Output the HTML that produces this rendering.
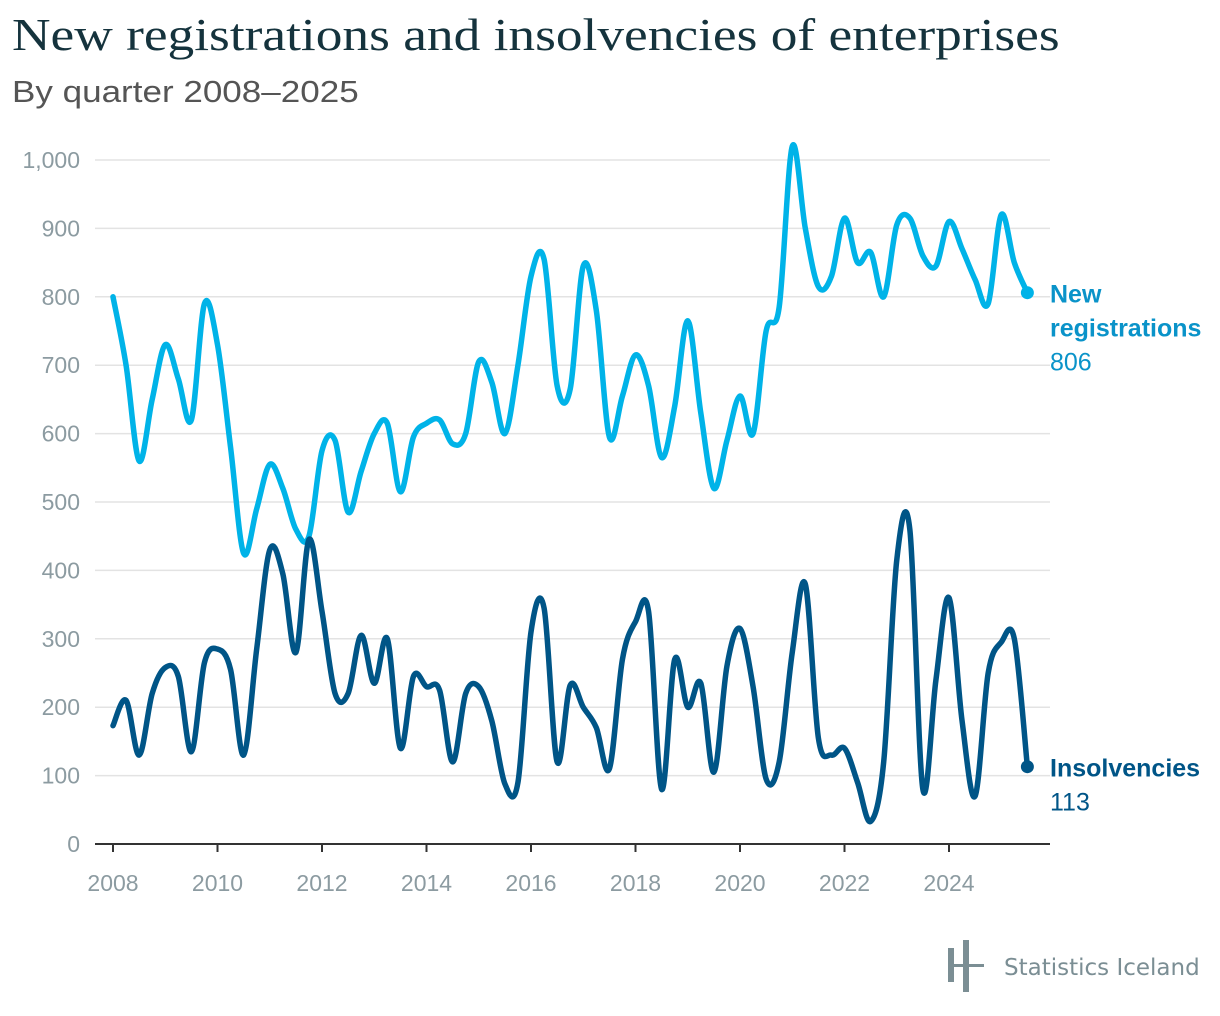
<!DOCTYPE html>
<html><head><meta charset="utf-8"><style>
body{margin:0;width:1220px;height:1016px;background:#fff;overflow:hidden;font-family:"Liberation Sans",sans-serif}
#title{position:absolute;left:12px;top:8px;font-family:"Liberation Serif",serif;font-size:46px;color:#15333d;margin:0;font-weight:normal;transform-origin:0 0;transform:scaleX(1.16);white-space:nowrap}
#sub{position:absolute;left:12px;top:74px;font-size:31px;color:#555;font-weight:300;transform-origin:0 0;transform:scaleX(1.13);white-space:nowrap}
svg{position:absolute;left:0;top:0}
</style></head><body>
<h1 id="title">New registrations and insolvencies of enterprises</h1>
<div id="sub">By quarter 2008–2025</div>
<svg id="chart" width="1220" height="1016"></svg>
<script>
const yTicks=[0,100,200,300,400,500,600,700,800,900,1000];
const xTicks=[2008,2010,2012,2014,2016,2018,2020,2022,2024];
const registrations=[800,700,560,650,730,680,620,790,730,580,425,490,555,520,460,450,575,590,485,545,600,615,515,595,615,620,585,600,705,675,600,700,830,855,670,665,845,780,595,655,715,670,565,640,765,630,520,590,655,600,750,785,1020,900,815,830,915,850,865,800,905,915,860,845,910,870,825,790,920,850,806];
const insolvencies=[173,210,130,220,258,245,135,265,285,255,130,285,430,395,280,445,340,220,220,305,235,300,140,245,230,225,120,220,230,180,88,90,310,345,120,232,200,170,110,270,325,340,80,270,200,235,105,260,315,230,95,120,280,380,155,130,140,90,33,120,415,460,80,240,360,180,70,250,295,300,113];
const NS="http://www.w3.org/2000/svg",svg=document.getElementById('chart');
const X=t=>113+(t-2008)*52.25, Y=v=>844-v*0.684;
function mk(tag,attrs,parent){const e=document.createElementNS(NS,tag);for(const k in attrs)e.setAttribute(k,attrs[k]);(parent||svg).appendChild(e);return e;}
yTicks.forEach(v=>{
  const l=mk('line',{x1:95,x2:1050,y1:Y(v),y2:Y(v),stroke:v?'#e3e3e3':'#333','stroke-width':v?1.5:2});
  
  
  const t=mk('text',{x:80,y:Y(v)+8,'text-anchor':'end','font-size':23,fill:'#8c9ba1','font-family':'Liberation Sans, sans-serif'});
  t.textContent=v.toLocaleString('en-US');
  
  
});
xTicks.forEach(y=>{
  const l=mk('line',{x1:X(y),x2:X(y),y1:844,y2:852,stroke:'#333','stroke-width':2});
  
  
  const t=mk('text',{x:X(y),y:891,'text-anchor':'middle','font-size':23,fill:'#8c9ba1','font-family':'Liberation Sans, sans-serif'});
  t.textContent=y;
  
  
});
function path(data){
  const p=data.map((v,i)=>[X(2008+i/4),Y(v)]);
  let d='M'+p[0][0]+','+p[0][1];
  for(let i=0;i<p.length-1;i++){
    const p0=p[i-1]||p[i],p1=p[i],p2=p[i+1],p3=p[i+2]||p2,k=1/6;
    d+=' C'+(p1[0]+(p2[0]-p0[0])*k)+','+(p1[1]+(p2[1]-p0[1])*k)+' '+(p2[0]-(p3[0]-p1[0])*k)+','+(p2[1]-(p3[1]-p1[1])*k)+' '+p2[0]+','+p2[1];
  }
  return {d,last:p[p.length-1]};
}
function series(data,color,lblColor,name,labels){
  const r=path(data);
  const pe=mk('path',{d:r.d,fill:'none',stroke:color,'stroke-width':5.5,'stroke-linejoin':'round','stroke-linecap':'round'});
  
  
  const c=mk('circle',{cx:r.last[0],cy:r.last[1],r:6.5,fill:color});
  
  
  const t=mk('text',{x:1050,y:r.last[1]+10,'font-size':25,fill:lblColor,'font-family':'Liberation Sans, sans-serif'});
  
  
  labels.forEach((s,i)=>{const ts=mk('tspan',{x:1050,dy:i?34:0,'font-weight':i==labels.length-1?'normal':'bold'},t);ts.textContent=s;});
}
series(registrations,'#00b3e8','#0a93c9','registrations',['New','registrations',String(registrations[registrations.length-1])]);
series(insolvencies,'#005587','#005587','insolvencies',['Insolvencies',String(insolvencies[insolvencies.length-1])]);
const g=mk('g',{fill:'#7b8e94'});


mk('rect',{x:948,y:948,width:6,height:34},g);
mk('rect',{x:963,y:940,width:6,height:52},g);
mk('rect',{x:948,y:964,width:36,height:3},g);
const lt=mk('text',{x:1004,y:975,'font-size':23,fill:'#7b8e94','font-family':'DejaVu Sans, sans-serif'},g);
lt.textContent='Statistics Iceland';
</script>
</body></html>
